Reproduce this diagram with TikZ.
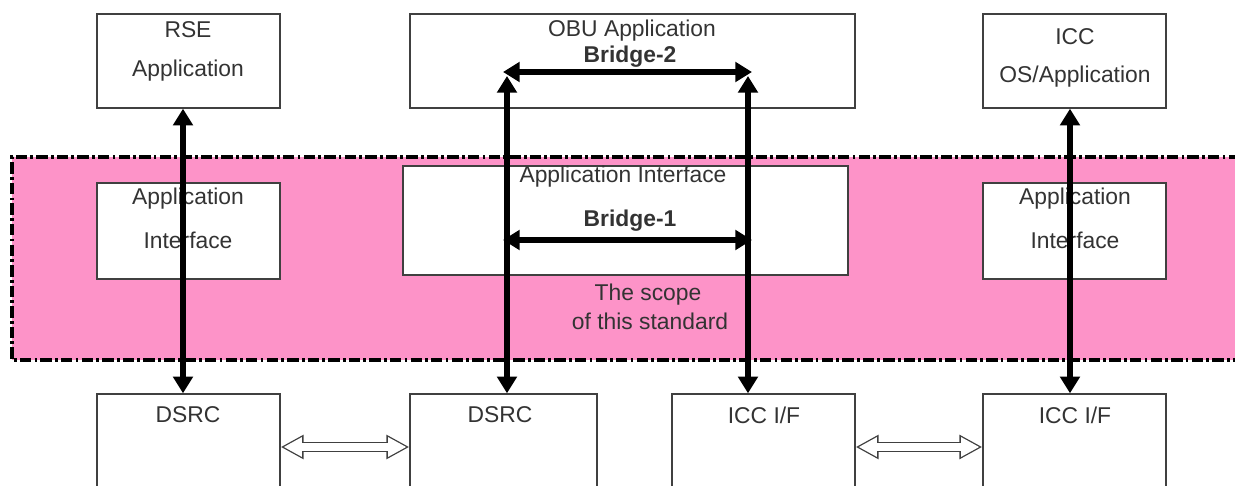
\documentclass[tikz,border=0pt]{standalone}
\usepackage{fontspec}
\setmainfont{Liberation Sans}
\usetikzlibrary{arrows.meta,fit}

\definecolor{scopepink}{RGB}{253,147,200}

\begin{document}
\begin{tikzpicture}[
    x=0.02cm, y=-0.02cm,
    box/.style={draw=black!75, line width=.8pt, fill=white, inner sep=0pt},
    txt/.style={text=black!80, inner sep=0pt, font=\fontsize{13}{15}\selectfont},
    bold/.style={txt, font=\fontsize{13}{15}\selectfont\bfseries},
    link/.style={line width=3.4pt,
      {Triangle[length=9.5pt,width=11pt]}-{Triangle[length=9.5pt,width=11pt]}},
    hollowout/.style={black!75, line width=5.7pt,
      {Triangle[length=13pt,width=13pt]}-{Triangle[length=13pt,width=13pt]}},
    hollowin/.style={white, line width=4.2pt, shorten <=1.6pt, shorten >=1.6pt,
      {Triangle[length=10.5pt,width=10.5pt]}-{Triangle[length=10.5pt,width=10.5pt]}}]

      \clip (0,0) rectangle (1235,486);

      % scope band
      \fill[scopepink] (12,157) rectangle (1240,360);
      \draw[line width=2.3pt, dash pattern=on 6.5pt off 1.8pt on 1.6pt off 1.8pt]
        (1240,157) -- (12,157) -- (12,360) -- (1240,360);

      % application layer
      \node[box, fit={(97,14) (280,108)}] (rse) {};
      \node[box, fit={(410,14) (855,108)}] (obu) {};
      \node[box, fit={(983,14) (1166,108)}] (icc) {};

      % interface layer
      \node[box, fit={(97,183) (280,279)}] (aiL) {};
      \node[box, fit={(403,166) (848,275)}] (aiC) {};
      \node[box, fit={(983,183) (1166,279)}] (aiR) {};

      % lower layer
      \node[box, fit={(97,394) (280,500)}] (dsrcL) {};
      \node[box, fit={(410,394) (597,500)}] (dsrcC) {};
      \node[box, fit={(672,394) (855,500)}] (iccC) {};
      \node[box, fit={(983,394) (1166,500)}] (iccR) {};

      \node[txt] (rseA) at (188,30) {RSE};
      \node[txt] (rseB) at (188,71) {Application};
      \node[txt] (obuA) at (632,31) {OBU Application};
      \node[bold] (br2) at (630,57) {Bridge-2};
      \node[txt] (iccA) at (1075,37) {ICC};
      \node[txt] (iccB) at (1075,77) {OS/Application};

      \node[txt] (aiLA) at (188,199) {Application};
      \node[txt] (aiLB) at (188,240) {Interface};
      \node[txt] (aiCA) at (623,177) {Application Interface};
      \node[bold] (br1) at (630,221) {Bridge-1};
      \node[txt] (aiRA) at (1075,199) {Application};
      \node[txt] (aiRB) at (1075,240) {Interface};

      \node[txt] (scopeA) at (648,295) {The scope};
      \node[txt] (scopeB) at (650,321) {of this standard};

      \node[txt] (dsrcLA) at (188,415) {DSRC};
      \node[txt] (dsrcCA) at (500,415) {DSRC};
      \node[txt] (iccCA) at (764,415) {ICC I/F};
      \node[txt] (iccRA) at (1075,415) {ICC I/F};

      % arrow columns
      \coordinate (colL) at (183,0);
      \coordinate (colR) at (1070,0);
      \coordinate (upL) at (507,76);
      \coordinate (upR) at (748,76);
      \coordinate (b2L) at (503,72);
      \coordinate (b2R) at (752,72);
      \coordinate (b1L) at (503,240);
      \coordinate (b1R) at (752,240);

      \draw[link] (rse.south -| colL) -- (dsrcL.north -| colL);
      \draw[link] (icc.south -| colR) -- (iccR.north -| colR);
      \draw[link] (upL) -- (upL |- dsrcC.north);
      \draw[link] (upR) -- (upR |- iccC.north);
      \draw[link] (b2L) -- (b2R);
      \draw[link] (b1L) -- (b1R);

      % radio and card links
      \foreach \a/\b in {dsrcL/dsrcC, iccC/iccR} {
        \draw[hollowout] (\a.east) -- (\b.west);
        \draw[hollowin] (\a.east) -- (\b.west);
      }

    \end{tikzpicture}
\end{document}
